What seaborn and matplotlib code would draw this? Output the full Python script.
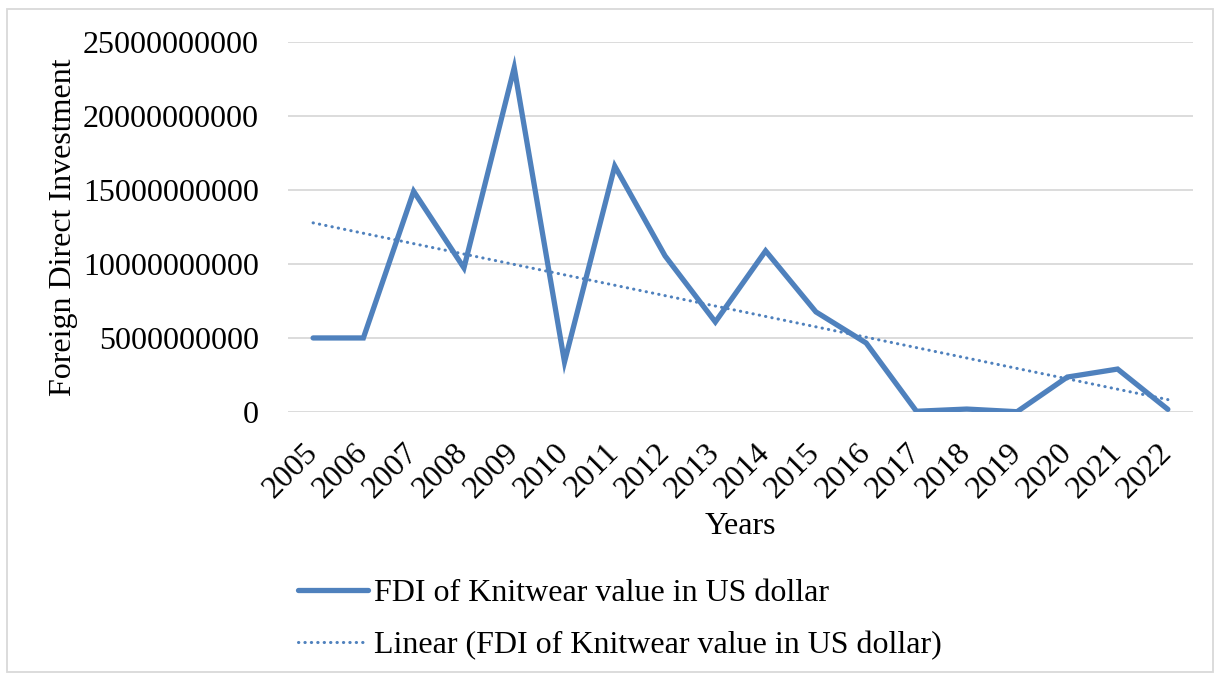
import numpy as np
import pandas as pd
import matplotlib
matplotlib.use("Agg")
import matplotlib.pyplot as plt
import seaborn as sns
from matplotlib.patches import Rectangle
from matplotlib.lines import Line2D

years = [2005, 2006, 2007, 2008, 2009, 2010, 2011, 2012, 2013,
         2014, 2015, 2016, 2017, 2018, 2019, 2020, 2021, 2022]
fdi_values = [5.0e9, 5.0e9, 14.9e9, 9.73e9, 23.24e9, 3.38e9, 16.6e9, 10.54e9, 6.08e9,
              10.88e9, 6.76e9, 4.66e9, 0.05e9, 0.2e9, 0.02e9, 2.36e9, 2.9e9, 0.18e9]
y_ticks = [0, 5000000000, 10000000000, 15000000000, 20000000000, 25000000000]
series_label = "FDI of Knitwear value in US dollar"
trend_label = "Linear (FDI of Knitwear value in US dollar)"

sns.set_theme(style="white")
plt.rcParams['font.family'] = ['Liberation Serif', 'DejaVu Serif']
plt.rcParams.update({"text.color": "black", "axes.labelcolor": "black",
                     "xtick.color": "black", "ytick.color": "black"})

FS = 23

df = pd.DataFrame({"year": years, "fdi": fdi_values})
idx = np.arange(len(years))
coef = np.polyfit(idx, np.array(fdi_values), 1)
df["trend"] = np.polyval(coef, idx)

color = "#4F81BD"
fig = plt.figure(figsize=(12.14, 6.75), dpi=100)
ax = fig.add_axes([0.2372, 0.3896, 0.9827 - 0.2372, 0.9382 - 0.3896])

sns.lineplot(data=df, x="year", y="trend", ax=ax, color=color, linewidth=2.2,
             linestyle=(0, (0.1, 2.0)))
sns.lineplot(data=df, x="year", y="fdi", ax=ax, color=color, linewidth=3.8,
             solid_capstyle="round", solid_joinstyle="miter")
for l in ax.lines:
    l.set_dash_capstyle("round")

ax.set_xlim(years[0] - 0.5, years[-1] + 0.5)
ax.set_ylim(0, 25e9)
ax.set_yticks(y_ticks)
ax.set_yticklabels([str(v) for v in y_ticks], fontsize=FS)
ax.set_xticks(years)
ax.set_xticklabels([str(y) for y in years], fontsize=FS, rotation=45,
                   ha="right", va="center", rotation_mode="anchor")
ax.tick_params(axis="x", pad=26, length=0)
ax.tick_params(axis="y", pad=21, length=0)
ax.yaxis.grid(True, color="#D9D9D9", linewidth=1.3)
ax.set_axisbelow(True)
for s in ax.spines.values():
    s.set_visible(False)

ax.set_xlabel("Years", fontsize=FS)
ax.set_ylabel("Foreign Direct Investment", fontsize=FS)
ax.xaxis.set_label_coords((740 - 288) / (1193 - 288), -(512 - 412) / (412 - 41.7))
ax.yaxis.set_label_coords(-(288 - 78) / (1193 - 288), 0.5)

handles = [Line2D([0], [0], color=color, linewidth=3.8, solid_capstyle="round"),
           Line2D([0], [0], color=color, linewidth=2.2, linestyle=(0, (0.1, 2.0)),
                  dash_capstyle="round")]
fig.legend(handles, [series_label, trend_label], loc="upper left",
           bbox_to_anchor=(285 / 1214, 1 - 566 / 675), frameon=False, fontsize=FS,
           handlelength=2.2, handletextpad=0.19, labelspacing=0.72, borderaxespad=0)

fig.patches.append(Rectangle((7 / 1214, 3 / 675), 1 - 8 / 1214, 1 - 12 / 675,
                             transform=fig.transFigure, fill=False,
                             edgecolor="#D9D9D9", linewidth=1.3))

fig.savefig("out.png", dpi=100)
